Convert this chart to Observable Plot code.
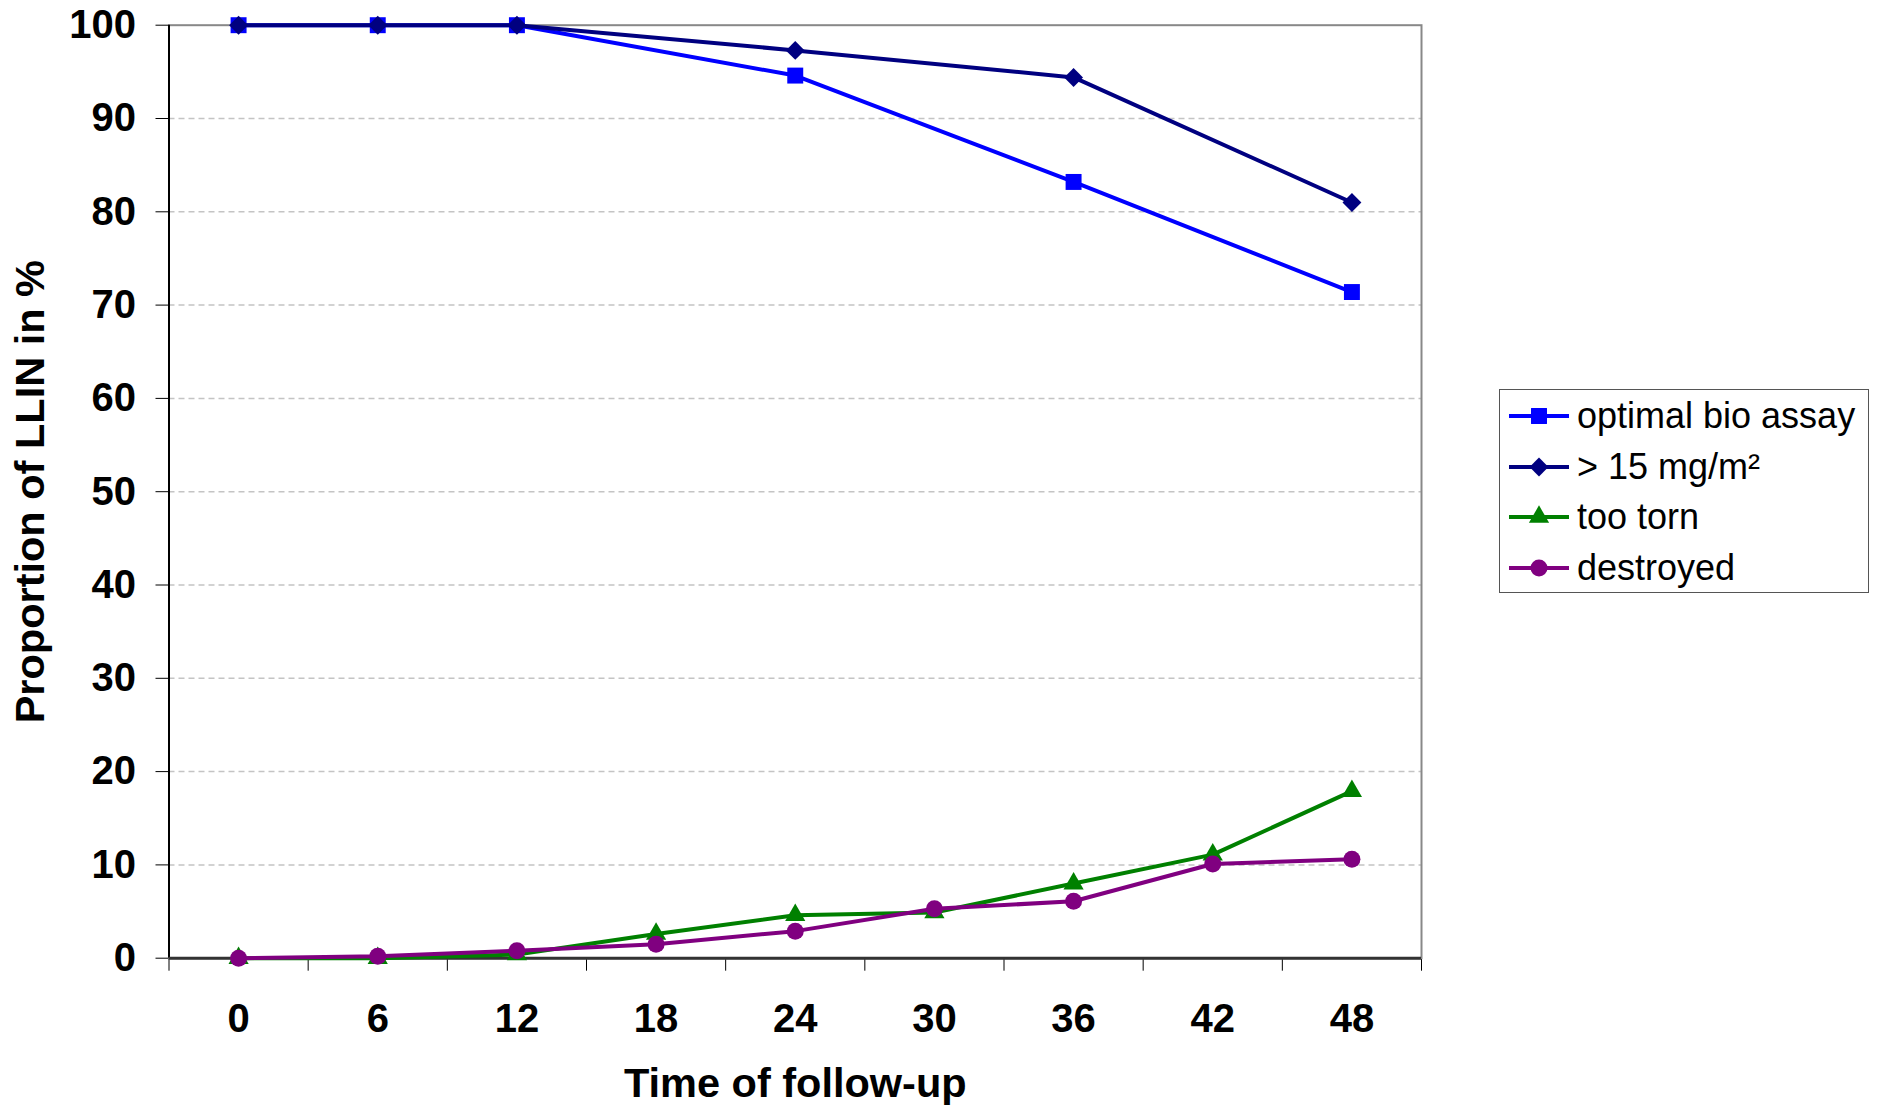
<!DOCTYPE html>
<html>
<head>
<meta charset="utf-8">
<script src="https://cdn.jsdelivr.net/npm/d3@7"></script>
<script src="https://cdn.jsdelivr.net/npm/@observablehq/plot@0.6"></script>
<style>
  html, body { margin: 0; padding: 0; background: #fff; }
  #wrap { position: relative; width: 1877px; height: 1106px; font-family: "Liberation Sans", Arial, sans-serif; }
  #legend { position: absolute; left: 1499px; top: 389px; width: 370px; height: 204px; border: 1.5px solid #555; box-sizing: border-box; background: #fff; }
  .item { position: absolute; left: 9px; height: 50px; display: flex; align-items: center; font-size: 36px; color: #000; white-space: nowrap; }
  .item svg { margin-right: 8px; }
</style>
</head>
<body>
<div id="wrap"><div id="chart"></div><div id="legend"></div></div>
<script>
// ---- data ----
const months = [0, 6, 12, 18, 24, 30, 36, 42, 48];
const assayMonths = [0, 6, 12, 24, 36, 48];
const optimalBioAssay = [100, 100, 100, 94.6, 83.2, 71.4];
const above15 = [100, 100, 100, 97.3, 94.4, 81.0];
const tooTorn = [0, 0, 0.4, 2.6, 4.6, 4.9, 8.0, 11.1, 17.9];
const destroyed = [0, 0.2, 0.8, 1.5, 2.9, 5.3, 6.1, 10.1, 10.6];
const seriesNames = ["optimal bio assay", "> 15 mg/m²", "too torn", "destroyed"];
const seriesColors = ["#0000ff", "#000080", "#008000", "#800080"];
const seriesSymbols = ["square", "diamond2", "triangle", "circle"];
const seriesRadius = [9, 8.5, 7.5, 8.5];
const yTicks = [0, 10, 20, 30, 40, 50, 60, 70, 80, 90, 100];
const gridTicks = [10, 20, 30, 40, 50, 60, 70, 80, 90];
const xEdges = [-3, 3, 9, 15, 21, 27, 33, 39, 45, 51];
const xTitle = "Time of follow-up";
const yTitle = "Proportion of LLIN in %";

// ---- build table ----
const rows = [];
assayMonths.forEach((m, i) => rows.push({series: seriesNames[0], t: m, v: optimalBioAssay[i]}));
assayMonths.forEach((m, i) => rows.push({series: seriesNames[1], t: m, v: above15[i]}));
months.forEach((m, i) => rows.push({series: seriesNames[2], t: m, v: tooTorn[i]}));
months.forEach((m, i) => rows.push({series: seriesNames[3], t: m, v: destroyed[i]}));

const seriesMarks = seriesNames.flatMap((name, k) => {
  const d = rows.filter(r => r.series === name);
  return [
    Plot.line(d, {x: "t", y: "v", stroke: "series", strokeWidth: 4}),
    Plot.dot(d, {x: "t", y: "v", fill: "series", symbol: "series", r: seriesRadius[k], stroke: "none"})
  ];
});

const chart = Plot.plot({
  width: 1877,
  height: 1106,
  marginLeft: 168.5,
  marginRight: 456,
  marginTop: 24.7,
  marginBottom: 148.3,
  style: {fontFamily: "Liberation Sans, Arial, sans-serif", fontSize: "40px", fontWeight: "bold", color: "#000", background: "#fff"},
  x: {type: "linear", domain: [xEdges[0], xEdges[xEdges.length - 1]], ticks: xEdges, tickSize: 13, tickFormat: () => "", label: null},
  y: {domain: [0, 100], ticks: yTicks, tickSize: 13, tickPadding: 20, label: null},
  color: {domain: seriesNames, range: seriesColors},
  symbol: {domain: seriesNames, range: seriesSymbols},
  marks: [
    Plot.ruleY(gridTicks, {stroke: "#c4c4c4", strokeWidth: 1.5, strokeDasharray: "6,4"}),
    Plot.frame({stroke: "#888", strokeWidth: 2}),
    Plot.ruleX([xEdges[0]], {stroke: "#000", strokeWidth: 2}),
    Plot.ruleY([0], {stroke: "#333", strokeWidth: 3}),
    ...seriesMarks,
    Plot.text(months, {x: d => d, frameAnchor: "bottom", lineAnchor: "middle", dy: 61, text: d => String(d), fontSize: 40, fontWeight: "bold"}),
    Plot.text([xTitle], {frameAnchor: "bottom", lineAnchor: "middle", dy: 126, text: d => d, fontSize: 41.5, fontWeight: "bold"}),
    Plot.text([yTitle], {frameAnchor: "left", textAnchor: "middle", lineAnchor: "middle", dx: -138, rotate: -90, text: d => d, fontSize: 41.5, fontWeight: "bold"})
  ]
});
document.getElementById("chart").appendChild(chart);

// ---- legend ----
const legend = document.getElementById("legend");
seriesNames.forEach((name, k) => {
  const item = document.createElement("div");
  item.className = "item";
  item.style.top = (1 + k * 50.5) + "px";
  const ns = "http://www.w3.org/2000/svg";
  const svg = document.createElementNS(ns, "svg");
  svg.setAttribute("width", 60);
  svg.setAttribute("height", 24);
  const line = document.createElementNS(ns, "line");
  line.setAttribute("x1", 0); line.setAttribute("x2", 60);
  line.setAttribute("y1", 12); line.setAttribute("y2", 12);
  line.setAttribute("stroke", seriesColors[k]); line.setAttribute("stroke-width", 4);
  svg.appendChild(line);
  const symMap = {square: d3.symbolSquare, diamond2: d3.symbolDiamond2, triangle: d3.symbolTriangle, circle: d3.symbolCircle};
  const r = seriesRadius[k];
  const p = document.createElementNS(ns, "path");
  p.setAttribute("d", d3.symbol(symMap[seriesSymbols[k]], Math.PI * r * r)());
  p.setAttribute("transform", "translate(30,12)");
  p.setAttribute("fill", seriesColors[k]);
  svg.appendChild(p);
  item.appendChild(svg);
  item.appendChild(document.createTextNode(name));
  legend.appendChild(item);
});
</script>
</body>
</html>
